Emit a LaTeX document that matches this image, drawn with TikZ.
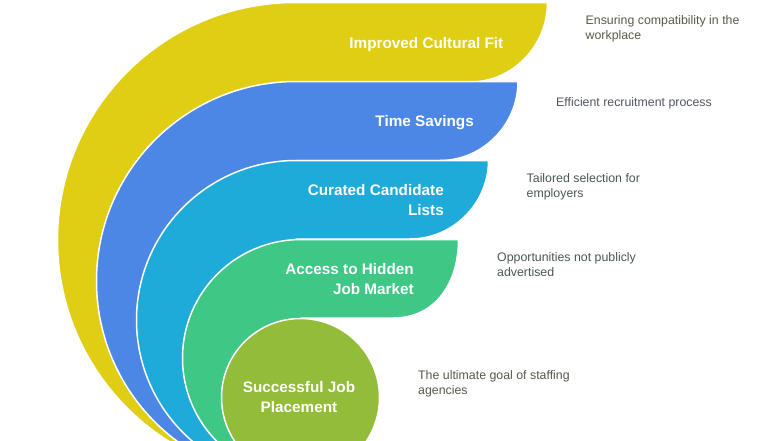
\documentclass[tikz,border=0pt]{standalone}
\usepackage{fontspec}
\setmainfont{Liberation Sans}
\definecolor{cyellow}{HTML}{E0CE15}
\definecolor{cblue}{HTML}{4D87E6}
\definecolor{ccyan}{HTML}{1EABDA}
\definecolor{cgreen}{HTML}{3EC785}
\definecolor{colive}{HTML}{93BC39}
\definecolor{dyellow}{HTML}{5A5A48}
\definecolor{dblue}{HTML}{4F5560}
\definecolor{dcyan}{HTML}{4A5558}
\definecolor{dgreen}{HTML}{4A5550}
\definecolor{dolive}{HTML}{55584A}
\tikzset{
  x=1pt,y=-1pt,
  band/.style={draw=white,line width=1.5pt,line join=round},
  title/.style={text=white,font=\fontsize{15.3}{20}\selectfont\bfseries,align=right,anchor=east,inner sep=0pt},
  desc/.style={font=\fontsize{12.35}{15}\selectfont,align=left,anchor=west,inner sep=0pt}
}
\newcommand{\bandshape}[7]{% fill, cx, cy, r, right x, inner x, bottom y
  \fill[#1] (#2,#3-#4) -- (#5,#3-#4) .. controls (#5,#3-#4+43) and (#6+43,#7) .. (#6,#7) -- (#2,#7) -- (#2,#3+#4) arc[start angle=90,delta angle=180,radius=#4] -- cycle;
  \draw[band] (#2,#3-#4) -- (#5,#3-#4) .. controls (#5,#3-#4+43) and (#6+43,#7) .. (#6,#7) -- (#2,#7) -- (#2,#3+#4) arc[start angle=90,delta angle=180,radius=#4] -- cycle;
}
\begin{document}
\begin{tikzpicture}
\useasboundingbox (0,0) rectangle (780,440);
\clip (0,0) rectangle (780,440);
\fill[white] (0,0) rectangle (780,440);
\bandshape{cyellow}{295}{240}{237.5}{547.5}{470}{82}
\bandshape{cblue}{296}{281}{199.5}{518}{440}{160.5}
\bandshape{ccyan}{296}{320}{159.5}{488.5}{410}{239}
\bandshape{cgreen}{301}{358}{118.5}{458.5}{393}{318}
\fill[colive] (300.5,397.5) circle[radius=79];
\draw[band] (300.5,397.5) circle[radius=79];
\node[title] (t1) at (503.5,45) {Improved Cultural Fit};
\node[title] (t2) at (474,123) {Time Savings};
\node[title] (t3) at (444,200) {Curated Candidate\\Lists};
\node[title] (t4) at (414,279) {Access to Hidden\\Job Market};
\node[title,align=center,anchor=center] (t5) at (299,397.5) {Successful Job\\Placement};
\node[desc,text=dyellow] (d1) at (585.5,28.5) {Ensuring compatibility in the\\workplace};
\node[desc,text=dblue] (d2) at (556,103.5) {Efficient recruitment process};
\node[desc,text=dcyan] (d3) at (526.5,186.5) {Tailored selection for\\employers};
\node[desc,text=dgreen] (d4) at (497,265) {Opportunities not publicly\\advertised};
\node[desc,text=dolive] (d5) at (418,383.5) {The ultimate goal of staffing\\agencies};
\end{tikzpicture}
\end{document}
